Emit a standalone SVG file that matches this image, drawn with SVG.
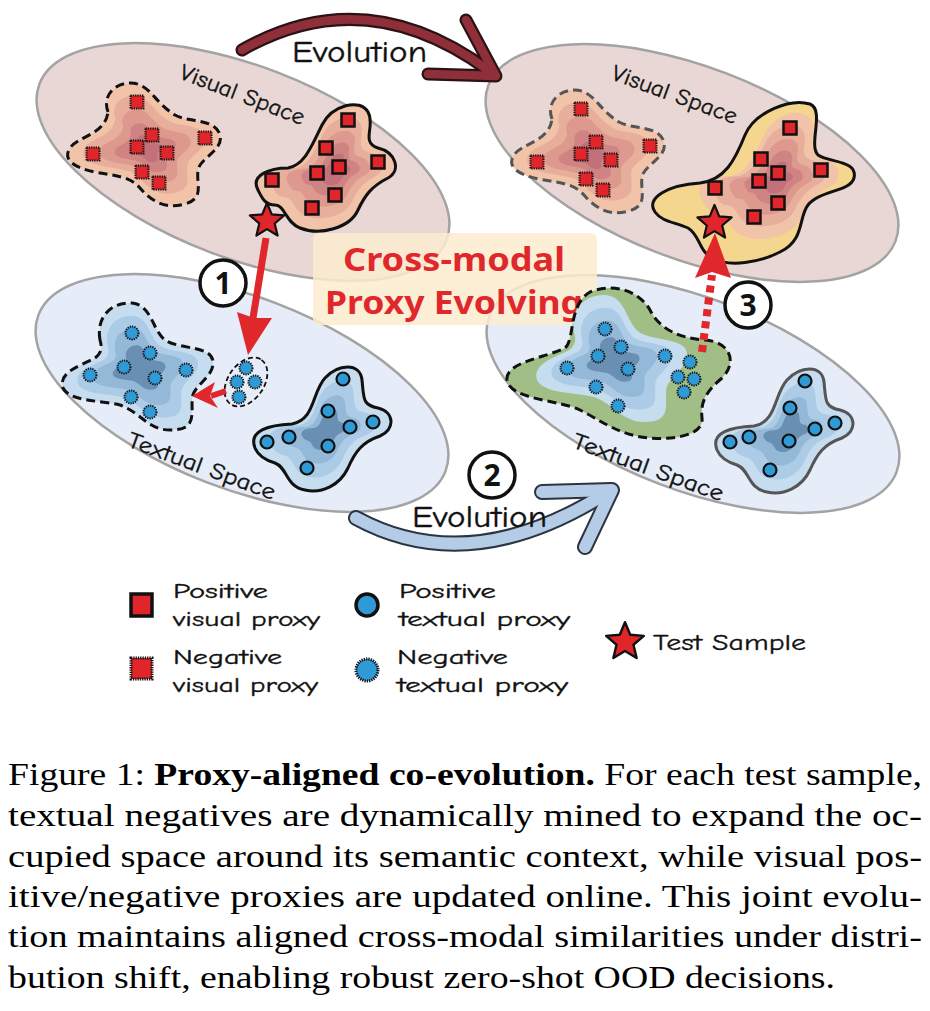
<svg xmlns="http://www.w3.org/2000/svg" xmlns:xlink="http://www.w3.org/1999/xlink" width="930" height="1011" viewBox="0 0 930 1011">
<style>
.hand{font-family:"Comic Sans MS","Comic Neue","Noto Sans",sans-serif;fill:#111;stroke:#111;stroke-width:0.35}
.vsp{fill:#e9d7d5;stroke:#a3a3a3;stroke-width:2.5}
.tsp{fill:#e6edf8;stroke:#a3a3a3;stroke-width:2.5}
.pv{fill:#e0262b;stroke:#111;stroke-width:2.5}
.nv{fill:#e0262b;stroke:#111;stroke-width:2;stroke-dasharray:1.3 1}
.pt{fill:#2f9ad6;stroke:#111;stroke-width:2.2}
.nt{fill:#2f9ad6;stroke:#111;stroke-width:2;stroke-dasharray:1.3 1}
.out{fill:none;stroke:#111;stroke-width:3;stroke-linejoin:round}
.dash{stroke-dasharray:9 5}
.circ{fill:#fff;stroke:#111;stroke-width:3.5}
.num{font-family:"Comic Sans MS","Noto Sans",sans-serif;font-weight:bold;font-size:30px;text-anchor:middle;fill:#111}
.star{fill:#e0262b;stroke:#111;stroke-width:2.2;stroke-linejoin:round}
.cap{font-family:"Liberation Serif","Times New Roman",serif;font-size:32px;fill:#000}
.v1{fill:#f1c3a9}.v2{fill:#e8ae9c}.v3{fill:#dd998e}.v4{fill:#cf8483}.v5{fill:#c2717a}
.t1{fill:#c6dcef}.t2{fill:#accbe6}.t3{fill:#93b8d8}.t4{fill:#7aa2c3}.t5{fill:#6990b2}
</style>
<defs>
<path id="A" d="M108,112 C100,90 125,78 140,85 C152,90 158,105 175,115 C190,123 215,118 220,135 C224,150 200,158 198,170 C196,185 205,198 185,204 C165,210 150,200 140,188 C130,176 115,176 95,172 C75,168 62,160 70,148 C78,136 105,135 108,112 Z"/>
<path id="B" d="M258,190 C250,175 270,168 288,168 C305,165 312,145 322,125 C332,105 360,98 368,112 C376,126 360,142 378,148 C395,152 402,170 388,178 C372,186 365,195 358,210 C350,228 320,236 300,228 C285,222 285,205 275,205 C265,205 262,198 258,190 Z"/>
<path id="Y" d="M655,212 C645,198 668,185 700,183 C725,180 735,160 745,135 C755,112 790,98 810,104 C825,110 808,145 818,155 C830,163 858,160 854,178 C850,192 820,190 808,205 C798,218 805,240 780,252 C760,262 730,268 712,258 C698,250 700,235 688,228 C675,222 662,222 655,212 Z"/>
<path id="C" d="M100,340 C96,318 110,302 132,303 C152,305 152,330 165,340 C180,350 212,345 213,362 C214,378 192,385 192,400 C192,418 195,430 170,430 C148,430 140,412 120,405 C100,400 70,402 63,388 C58,372 80,366 95,358 C102,353 102,347 100,340 Z"/>
<path id="D" d="M255,448 C248,430 270,425 292,424 C315,420 312,392 325,378 C338,364 360,362 362,380 C364,398 362,405 378,408 C395,412 395,430 380,436 C362,442 355,452 348,468 C340,485 322,494 305,490 C285,486 288,468 275,463 C265,460 258,455 255,448 Z"/>
<path id="G" d="M507,380 C505,362 545,358 565,348 C575,340 568,305 590,292 C615,282 640,292 650,310 C660,330 680,338 705,340 C730,342 738,362 722,378 C708,390 700,400 702,418 C704,435 675,440 650,438 C620,436 600,420 580,410 C560,400 510,400 507,380 Z"/>
<polygon id="star" points="0,-18 4.76,-6.55 17.12,-5.56 7.7,2.5 10.58,14.56 0,8.1 -10.58,14.56 -7.7,2.5 -17.12,-5.56 -4.76,-6.55"/>
<rect id="sq" x="-6.5" y="-6.5" width="13" height="13"/>
<circle id="dot" r="6.5"/>
<g id="Alay">
<use href="#A" class="v1"/>
<use href="#A" class="v2" transform="translate(145 145) scale(0.8) translate(-145 -145)"/>
<use href="#A" class="v3" transform="translate(146 148) scale(0.6) translate(-146 -148)"/>
<use href="#A" class="v4" transform="translate(146 150) scale(0.4) translate(-146 -150)"/>
<use href="#A" class="v5" transform="translate(146 150) scale(0.22) translate(-146 -150)"/>
</g>
<g id="Blay">
<use href="#B" class="v1"/>
<use href="#B" class="v2" transform="translate(328 168) scale(0.8) translate(-328 -168)"/>
<use href="#B" class="v3" transform="translate(332 170) scale(0.6) translate(-332 -170)"/>
<use href="#B" class="v4" transform="translate(334 170) scale(0.42) translate(-334 -170)"/>
<use href="#B" class="v5" transform="translate(335 170) scale(0.25) translate(-335 -170)"/>
</g>
<g id="Clay">
<use href="#C" class="t1"/>
<use href="#C" class="t2" transform="translate(138 367) scale(0.8) translate(-138 -367)"/>
<use href="#C" class="t3" transform="translate(138 367) scale(0.6) translate(-138 -367)"/>
<use href="#C" class="t5" transform="translate(140 368) scale(0.35) translate(-140 -368)"/>
</g>
<g id="Dlay">
<use href="#D" class="t1"/>
<use href="#D" class="t2" transform="translate(322 430) scale(0.78) translate(-322 -430)"/>
<use href="#D" class="t3" transform="translate(324 430) scale(0.55) translate(-324 -430)"/>
<use href="#D" class="t5" transform="translate(325 430) scale(0.33) translate(-325 -430)"/>
</g>
</defs>

<g id="visual-space-before">
<ellipse class="vsp" cx="243" cy="162" rx="218" ry="96" transform="rotate(21 243 162)"/>
</g>
<g id="visual-space-after">
<ellipse class="vsp" cx="692" cy="163" rx="218" ry="96" transform="rotate(21 692 163)"/>
</g>
<g id="textual-space-before">
<ellipse class="tsp" cx="242" cy="393" rx="218" ry="96" transform="rotate(21 242 393)"/>
</g>
<g id="textual-space-after">
<ellipse class="tsp" cx="693" cy="394" rx="218" ry="96" transform="rotate(21 693 394)"/>
</g>

<g id="title-box">
<rect x="313" y="233" width="284" height="92" rx="6" fill="#fbeccf" fill-opacity="0.85"/>
<text x="454" y="271" text-anchor="middle" textLength="222" lengthAdjust="spacingAndGlyphs" font-family="Comic Sans MS, Noto Sans, sans-serif" font-weight="bold" font-size="32" fill="#e0282c">Cross-modal</text>
<text x="454" y="314" text-anchor="middle" textLength="258" lengthAdjust="spacingAndGlyphs" font-family="Comic Sans MS, Noto Sans, sans-serif" font-weight="bold" font-size="32" fill="#e0282c">Proxy Evolving</text>
</g>

<g id="cluster-v-neg-before">
<use href="#Alay"/>
<use href="#A" class="out dash"/>
<use href="#sq" class="nv" x="137" y="102"/><use href="#sq" class="nv" x="152" y="135"/><use href="#sq" class="nv" x="137" y="147"/><use href="#sq" class="nv" x="167" y="153"/><use href="#sq" class="nv" x="205" y="138"/><use href="#sq" class="nv" x="93" y="154"/><use href="#sq" class="nv" x="142" y="172"/><use href="#sq" class="nv" x="159" y="183"/>
</g>
<g id="cluster-v-pos-before">
<use href="#Blay"/>
<use href="#B" class="out"/>
<use href="#sq" class="pv" x="348" y="120"/><use href="#sq" class="pv" x="326" y="148"/><use href="#sq" class="pv" x="339" y="167"/><use href="#sq" class="pv" x="317" y="173"/><use href="#sq" class="pv" x="378" y="162"/><use href="#sq" class="pv" x="272" y="180"/><use href="#sq" class="pv" x="335" y="195"/><use href="#sq" class="pv" x="312" y="208"/>
</g>
<g id="cluster-v-neg-after">
<use href="#Alay" transform="translate(444 7)"/>
<use href="#A" class="out dash" transform="translate(444 7)" style="stroke:#555"/>
<use href="#sq" class="nv" x="581" y="109"/><use href="#sq" class="nv" x="596" y="142"/><use href="#sq" class="nv" x="581" y="154"/><use href="#sq" class="nv" x="611" y="160"/><use href="#sq" class="nv" x="650" y="146"/><use href="#sq" class="nv" x="537" y="162"/><use href="#sq" class="nv" x="586" y="179"/><use href="#sq" class="nv" x="603" y="190"/>
</g>
<g id="cluster-v-pos-after">
<use href="#Y" fill="#f5d68f"/>
<use href="#Blay" transform="translate(443 8)"/>
<use href="#Y" class="out"/>
<use href="#sq" class="pv" x="790" y="128"/><use href="#sq" class="pv" x="761" y="159"/><use href="#sq" class="pv" x="778" y="173"/><use href="#sq" class="pv" x="759" y="181"/><use href="#sq" class="pv" x="821" y="170"/><use href="#sq" class="pv" x="715" y="188"/><use href="#sq" class="pv" x="778" y="203"/><use href="#sq" class="pv" x="754" y="217"/>
</g>

<g id="cluster-t-neg-before">
<use href="#Clay"/>
<use href="#C" class="out dash"/>
<use href="#dot" class="nt" x="132" y="333"/><use href="#dot" class="nt" x="150" y="353"/><use href="#dot" class="nt" x="124" y="367"/><use href="#dot" class="nt" x="155" y="378"/><use href="#dot" class="nt" x="186" y="370"/><use href="#dot" class="nt" x="90" y="375"/><use href="#dot" class="nt" x="131" y="397"/><use href="#dot" class="nt" x="150" y="412"/>
</g>
<g id="cluster-t-mined">
<ellipse cx="246" cy="382" rx="27" ry="18" transform="rotate(-55 246 382)" fill="none" stroke="#111" stroke-width="1.8" stroke-dasharray="5 3"/>
<use href="#dot" class="nt" x="246" y="368"/><use href="#dot" class="nt" x="237" y="382"/><use href="#dot" class="nt" x="255" y="382"/><use href="#dot" class="nt" x="239" y="397"/>
</g>
<g id="cluster-t-pos-before">
<use href="#Dlay"/>
<use href="#D" class="out"/>
<use href="#dot" class="pt" x="343" y="379"/><use href="#dot" class="pt" x="328" y="411"/><use href="#dot" class="pt" x="350" y="427"/><use href="#dot" class="pt" x="373" y="422"/><use href="#dot" class="pt" x="289" y="437"/><use href="#dot" class="pt" x="267" y="442"/><use href="#dot" class="pt" x="328" y="446"/><use href="#dot" class="pt" x="307" y="468"/>
</g>
<g id="cluster-t-neg-after">
<use href="#G" fill="#a0be85"/>
<use href="#Clay" transform="translate(474 -8)"/>
<use href="#G" class="out dash"/>
<use href="#dot" class="nt" x="605" y="329"/><use href="#dot" class="nt" x="621" y="347"/><use href="#dot" class="nt" x="598" y="356"/><use href="#dot" class="nt" x="628" y="369"/><use href="#dot" class="nt" x="665" y="356"/><use href="#dot" class="nt" x="567" y="368"/><use href="#dot" class="nt" x="596" y="387"/><use href="#dot" class="nt" x="618" y="406"/>
<use href="#dot" class="nt" x="690" y="362"/><use href="#dot" class="nt" x="678" y="377"/><use href="#dot" class="nt" x="694" y="379"/><use href="#dot" class="nt" x="684" y="392"/>
</g>
<g id="cluster-t-pos-after">
<use href="#Dlay" transform="translate(462 2)"/>
<use href="#D" class="out" transform="translate(462 2)" style="stroke:#555"/>
<use href="#dot" class="pt" x="805" y="381"/><use href="#dot" class="pt" x="790" y="408"/><use href="#dot" class="pt" x="815" y="429"/><use href="#dot" class="pt" x="835" y="423"/><use href="#dot" class="pt" x="749" y="437"/><use href="#dot" class="pt" x="730" y="442"/><use href="#dot" class="pt" x="789" y="441"/><use href="#dot" class="pt" x="770" y="470"/>
</g>

<g id="space-labels" class="hand" font-size="23">
<text x="178" y="78" transform="rotate(21 178 78)" textLength="132" lengthAdjust="spacingAndGlyphs">Visual Space</text>
<text x="610" y="79" transform="rotate(20 610 79)" textLength="132" lengthAdjust="spacingAndGlyphs">Visual Space</text>
<text x="126" y="446" transform="rotate(20.3 126 446)" textLength="156" lengthAdjust="spacingAndGlyphs">Textual Space</text>
<text x="571" y="447" transform="rotate(20 571 447)" textLength="159" lengthAdjust="spacingAndGlyphs">Textual Space</text>
</g>

<g id="connectors">
<path d="M242,50 Q365,-20 488,70" fill="none" stroke="#2a1215" stroke-width="13" stroke-linecap="round"/>
<polyline points="466,20 496,76 428,74" fill="none" stroke="#2a1215" stroke-width="13" stroke-linecap="round" stroke-linejoin="round"/>
<path d="M242,50 Q365,-20 488,70" fill="none" stroke="#8e2f3a" stroke-width="8.5" stroke-linecap="round"/>
<polyline points="466,20 496,76 428,74" fill="none" stroke="#8e2f3a" stroke-width="8.5" stroke-linecap="round" stroke-linejoin="round"/>

<path d="M356,518 Q470,580 608,492" fill="none" stroke="#2b3440" stroke-width="16" stroke-linecap="round"/>
<polyline points="542,492 612,490 585,547" fill="none" stroke="#2b3440" stroke-width="16" stroke-linecap="round" stroke-linejoin="round"/>
<path d="M356,518 Q470,580 608,492" fill="none" stroke="#b4cce5" stroke-width="12" stroke-linecap="round"/>
<polyline points="542,492 612,490 585,547" fill="none" stroke="#b4cce5" stroke-width="12" stroke-linecap="round" stroke-linejoin="round"/>

<line x1="266" y1="238" x2="253" y2="318" stroke="#e0282c" stroke-width="7"/>
<polygon points="248,355 237,312 254,318 272,318" fill="#e0282c"/>
<line x1="226" y1="391" x2="211" y2="396" stroke="#e0282c" stroke-width="6"/>
<polygon points="192,396 215,382 210,396 218,408" fill="#e0282c"/>
<line x1="702" y1="352" x2="712" y2="275" stroke="#e0282c" stroke-width="8" stroke-dasharray="7 5"/>
<polygon points="715,233 695,278 712,272 731,278" fill="#e0282c"/>
</g>

<g id="star-before"><use href="#star" class="star" transform="translate(267 221)"/></g>
<g id="star-after"><use href="#star" class="star" transform="translate(714.5 223)"/></g>

<g id="evolution-labels" class="hand" font-size="30">
<text x="292" y="62" textLength="135" lengthAdjust="spacingAndGlyphs">Evolution</text>
<text x="412" y="527" textLength="135" lengthAdjust="spacingAndGlyphs">Evolution</text>
</g>

<g id="step1"><circle class="circ" cx="223" cy="283" r="23"/><text class="num" x="223" y="294">1</text></g>
<g id="step2"><circle class="circ" cx="492" cy="475" r="23"/><text class="num" x="492" y="486">2</text></g>
<g id="step3"><circle class="circ" cx="748" cy="305" r="23"/><text class="num" x="748" y="316">3</text></g>

<g id="legend" class="hand" font-size="21">
<rect x="131" y="594" width="21" height="22" fill="#e0262b" stroke="#111" stroke-width="3.5"/>
<rect x="131" y="658" width="21" height="21" fill="#e0262b" stroke="#111" stroke-width="3" stroke-dasharray="1.3 1"/>
<circle cx="367" cy="605" r="11" fill="#2f9ad6" stroke="#111" stroke-width="3.5"/>
<circle cx="367" cy="670" r="11" fill="#2f9ad6" stroke="#111" stroke-width="3" stroke-dasharray="1.3 1"/>
<use href="#star" class="star" transform="translate(625 642) scale(1.1)"/>
<text x="173" y="598" textLength="95" lengthAdjust="spacingAndGlyphs">Positive</text>
<text x="173" y="626" textLength="147" lengthAdjust="spacingAndGlyphs">visual proxy</text>
<text x="173" y="664" textLength="109" lengthAdjust="spacingAndGlyphs">Negative</text>
<text x="173" y="692" textLength="145" lengthAdjust="spacingAndGlyphs">visual proxy</text>
<text x="399" y="598" textLength="97" lengthAdjust="spacingAndGlyphs">Positive</text>
<text x="399" y="626" textLength="171" lengthAdjust="spacingAndGlyphs">textual proxy</text>
<text x="397" y="664" textLength="111" lengthAdjust="spacingAndGlyphs">Negative</text>
<text x="397" y="692" textLength="171" lengthAdjust="spacingAndGlyphs">textual proxy</text>
<text x="653" y="650" font-size="23" textLength="153" lengthAdjust="spacingAndGlyphs">Test Sample</text>
</g>

<g id="caption" class="cap">
<text x="8" y="785" textLength="914" lengthAdjust="spacingAndGlyphs">Figure 1: <tspan font-weight="bold">Proxy-aligned co-evolution.</tspan> For each test sample,</text>
<text x="8" y="826" textLength="914" lengthAdjust="spacingAndGlyphs">textual negatives are dynamically mined to expand the oc-</text>
<text x="8" y="867" textLength="914" lengthAdjust="spacingAndGlyphs">cupied space around its semantic context, while visual pos-</text>
<text x="8" y="907" textLength="914" lengthAdjust="spacingAndGlyphs">itive/negative proxies are updated online. This joint evolu-</text>
<text x="8" y="947" textLength="914" lengthAdjust="spacingAndGlyphs">tion maintains aligned cross-modal similarities under distri-</text>
<text x="8" y="988" textLength="827" lengthAdjust="spacingAndGlyphs">bution shift, enabling robust zero-shot OOD decisions.</text>
</g>
</svg>
